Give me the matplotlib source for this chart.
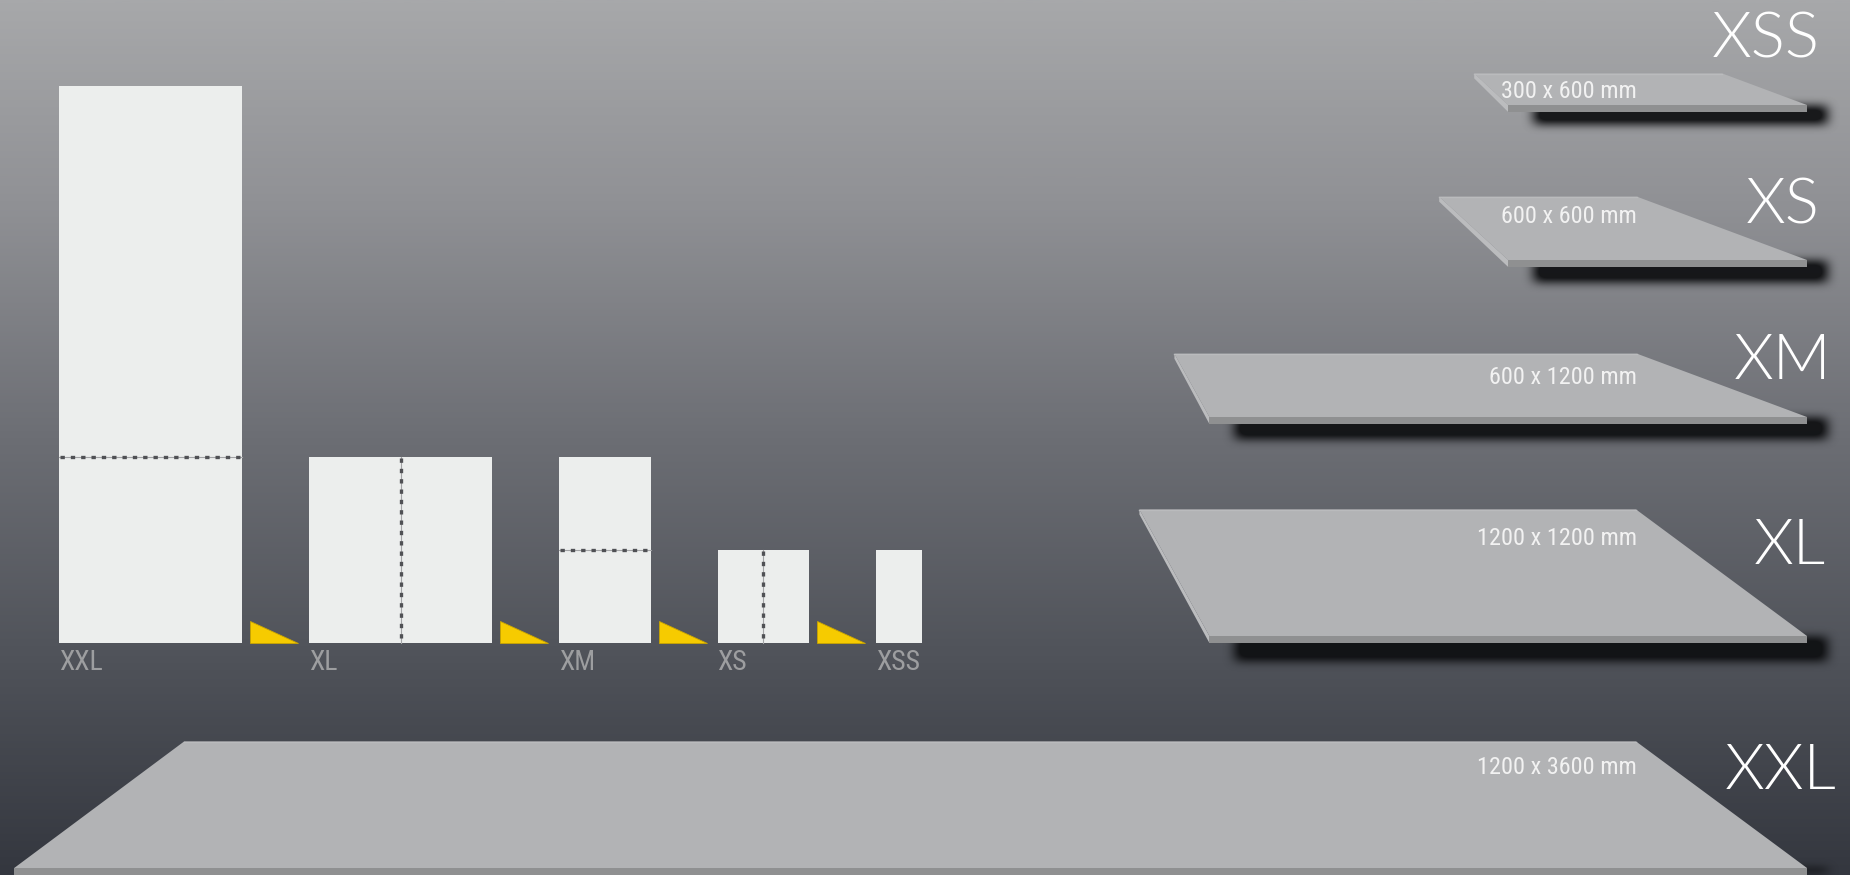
import os
import numpy as np
import matplotlib
matplotlib.use("Agg")
import matplotlib.pyplot as plt
from matplotlib import font_manager as fm
from matplotlib.patches import Polygon, Rectangle
from matplotlib.colors import LinearSegmentedColormap, to_rgb

# ---------------- data ----------------
names = ['XXL', 'XL', 'XM', 'XS', 'XSS']
widths_mm = [1200, 1200, 600, 600, 300]
heights_mm = [3600, 1200, 1200, 600, 600]
size_labels = ['1200 x 3600 mm', '1200 x 1200 mm', '600 x 1200 mm', '600 x 600 mm', '300 x 600 mm']
# dotted division line: 'h' at given height (mm), 'v' at given width (mm)
divisions = [('h', 1200), ('v', 600), ('h', 600), ('v', 300), (None, 0)]

# ---------------- fonts ----------------
def _weight(w):
    if isinstance(w, str):
        return fm.weight_dict.get(w, 400)
    return int(w)

def pick_condensed(target_weight):
    prefs = ['roboto', 'liberation', 'open sans', 'noto sans', 'dejavu']
    best, best_score = None, None
    for f in fm.fontManager.ttflist:
        nm = f.name.lower()
        fn = os.path.basename(f.fname).lower()
        st = str(f.stretch).lower()
        narrow = ('condensed' in st or 'narrow' in nm or 'condensed' in nm
                  or 'condensed' in fn or 'narrow' in fn)
        if not narrow or f.style != 'normal' or 'italic' in fn:
            continue
        if 'mono' in nm or ('serif' in nm and 'sans' not in nm):
            continue
        score = 0
        if 'semi' in fn or 'semi' in st:
            score += 30
        if 'extra' in fn or 'ultra' in fn or 'extra' in st:
            score += 20
        score += abs(_weight(f.weight) - target_weight) / 10
        pi = next((k for k, p in enumerate(prefs) if p in nm), len(prefs))
        score += pi
        if best_score is None or score < best_score:
            best, best_score = f.fname, score
    return best

def pick_light():
    files = {os.path.basename(f.fname).lower(): f.fname for f in fm.fontManager.ttflist}
    for key in ['lato-light.ttf', 'lato-light.otf', 'opensans-light.ttf', 'roboto-light.ttf',
                'notosans-light.ttf', 'inter-light.ttf', 'lato-regular.ttf']:
        if key in files:
            return files[key]
    return None

cond_reg = pick_condensed(400)
cond_light = pick_condensed(350)
light_path = pick_light()

def fprops(path, size, fallback_scale=0.8):
    if path:
        return fm.FontProperties(fname=path, size=size)
    return fm.FontProperties(family='DejaVu Sans', size=size * fallback_scale)

# ---------------- layout / style ----------------
W, H = 1850, 875
bar_x0, bar_gap, bar_base = 59, 67, 643
sx, sy = 0.1525, 0.1548
bar_color = '#eceeed'

plate_bottom = [868, 636, 417, 260, 105]
plate_br_x = 1807
plate_len_scale = 0.498
plate_depth_scale = 0.1055
plate_tl_dx = [170, -70, -35, -69, -34]
plate_tr_dx = [-171, -171, -170, -170, -85]
plate_edge = 7
text_base_dy = [33, 36, 30, 26, 25]
big_base = [789, 564, 379, 223, 57]
big_right = [1836, 1826, 1831, 1820, 1820]
shadow_h = [18, 18, 15, 15, 12]

fig = plt.figure(figsize=(W / 100, H / 100), dpi=100)
ax = fig.add_axes([0, 0, 1, 1])
ax.set_xlim(0, W)
ax.set_ylim(H, 0)
ax.axis('off')

# background gradient
stops = [(0.0, '#a7a8aa'), (0.23, '#909195'), (0.5, '#6c6e74'), (0.75, '#50535a'), (1.0, '#34373f')]
cmap = LinearSegmentedColormap.from_list('bg', stops)
grad = np.linspace(0, 1, 400).reshape(-1, 1)
ax.imshow(grad, cmap=cmap, extent=[0, W, H, 0], aspect='auto', zorder=0, interpolation='bilinear')

# ---------------- left bars ----------------
x = bar_x0
for i, (nm, w, h) in enumerate(zip(names, widths_mm, heights_mm)):
    bw, bh = w * sx, h * sy
    ax.add_patch(Rectangle((x, bar_base - bh), bw, bh, facecolor=bar_color, edgecolor='none', zorder=3))
    kind, val = divisions[i]
    if kind == 'h':
        yy = bar_base - val * sy
        ax.plot([x, x + bw], [yy, yy], color='#a3a4a6', lw=0.8, zorder=4)
        ax.plot([x + 1, x + bw], [yy, yy], color='#505155', lw=2.4, dashes=(1.3, 1.8), zorder=5, solid_capstyle='butt')
    elif kind == 'v':
        xx = x + val * sx
        ax.plot([xx, xx], [bar_base - bh, bar_base], color='#a3a4a6', lw=0.8, zorder=4)
        ax.plot([xx, xx], [bar_base - bh + 1, bar_base], color='#505155', lw=2.4, dashes=(1.3, 1.8), zorder=5)
    ax.text(x, bar_base + 27, nm, fontproperties=fprops(cond_reg, 20), color='#9d9ea0',
            ha='left', va='baseline', zorder=5)
    if i < len(names) - 1:
        t0 = x + bw + 8
        ax.add_patch(Polygon([(t0, bar_base - 22), (t0, bar_base), (t0 + 48, bar_base)], closed=True,
                             facecolor='#f6cb00', edgecolor='#c9a400', lw=0.6, zorder=3))
    x = x + bw + bar_gap

# ---------------- shadows ----------------
def blur1d(a, r, axis):
    a = np.moveaxis(a, axis, -1)
    p = np.pad(a, [(0, 0)] * (a.ndim - 1) + [(r + 1, r)])
    c = np.cumsum(p, axis=-1)
    out = (c[..., 2 * r + 1:] - c[..., :-(2 * r + 1)]) / (2 * r + 1)
    return np.moveaxis(out, -1, axis)

mask = np.zeros((H, W))
geo = []
for i, (w, h) in enumerate(zip(widths_mm, heights_mm)):
    bot = plate_bottom[i]
    top = bot - w * plate_depth_scale
    br = plate_br_x
    bl = br - h * plate_len_scale
    tl = bl + plate_tl_dx[i]
    tr = br + plate_tr_dx[i]
    geo.append((tl, tr, br, bl, top, bot))
    y0 = int(bot + plate_edge - 6)
    y1 = int(bot + plate_edge + shadow_h[i])
    x0 = int(bl + 26)
    x1 = int(br + 20)
    mask[max(y0, 0):min(y1, H), max(x0, 0):min(x1, W)] = 1.0
for _ in range(3):
    mask = blur1d(mask, 4, 0)
    mask = blur1d(mask, 5, 1)
sh = np.zeros((H, W, 4))
sh[..., 0:3] = np.array(to_rgb('#0e0f11'))
sh[..., 3] = np.clip(mask * 1.15, 0, 0.93)
ax.imshow(sh, extent=[0, W, H, 0], aspect='auto', zorder=1, interpolation='bilinear')

# ---------------- plates ----------------
for i, (tl, tr, br, bl, top, bot) in enumerate(geo):
    if tl < bl:
        ax.add_patch(Polygon([(tl, top), (bl, bot), (bl, bot + plate_edge), (tl, top + 5)], closed=True,
                             facecolor='#bbbcbe', edgecolor='none', zorder=2))
    ax.add_patch(Rectangle((bl, bot), br - bl, plate_edge, facecolor='#8f9091', edgecolor='none', zorder=2))
    ax.add_patch(Polygon([(tl, top), (tr, top), (br, bot), (bl, bot)], closed=True,
                         facecolor='#b2b3b5', edgecolor='none', zorder=3))
    ax.plot([tl, tr], [top + 0.5, top + 0.5], color='#babbbd', lw=1, zorder=3.5)
    ax.text(1637, top + text_base_dy[i], size_labels[i], fontproperties=fprops(cond_light, 17.5),
            color='#f2f2f2', ha='right', va='baseline', zorder=5)
    ax.text(big_right[i], big_base[i], names[i], fontproperties=fprops(light_path, 46, 1.0),
            color='white', ha='right', va='baseline', zorder=5)

fig.savefig('out.png', dpi=100)
